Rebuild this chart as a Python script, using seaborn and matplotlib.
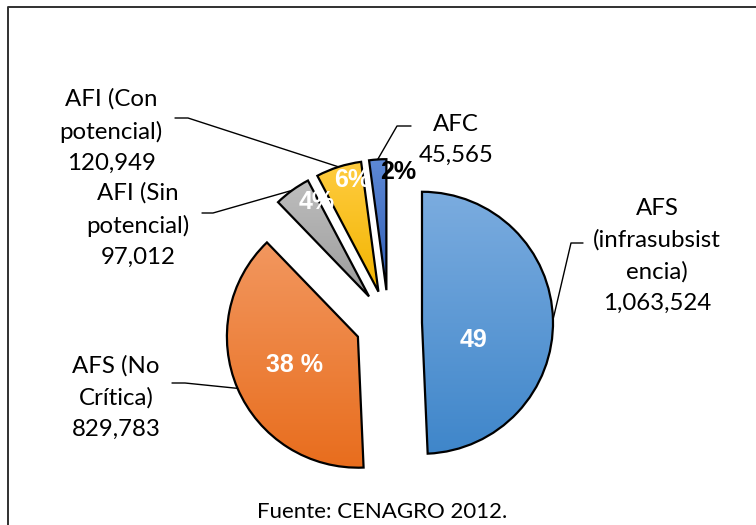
import numpy as np
import matplotlib
matplotlib.use("Agg")
import matplotlib.pyplot as plt
import seaborn as sns
from matplotlib.colors import LinearSegmentedColormap

# ---- data ----
categories = ["AFS (infrasubsistencia)", "AFS (No Crítica)", "AFI (Sin potencial)",
              "AFI (Con potencial)", "AFC"]
values = [1063524, 829783, 97012, 120949, 45565]
label_texts = ["AFS\n(infrasubsist\nencia)\n1,063,524",
               "AFS (No\nCrítica)\n829,783",
               "AFI (Sin\npotencial)\n97,012",
               "AFI (Con\npotencial)\n120,949",
               "AFC\n45,565"]
pct_labels = ["49", "38 %", "4%", "6%", "2%"]
source_text = "Fuente: CENAGRO 2012."

# gradient colours (top, bottom)
grad_colors = [("#7bacdf", "#3f86ca"),
               ("#f2975f", "#e86d1d"),
               ("#bebebe", "#9b9b9b"),
               ("#ffcc40", "#f2b400"),
               ("#5d89d6", "#2f5cb4")]
pct_colors = ["white", "white", "white", "white", "black"]

# ---- layout (pixels) ----
W, H = 756, 525
def Y(py):
    return H - py

pie_center = (388.6, Y(323.5))
pie_radius = 131
explode_px = 33.4

label_pos = [(657, 256), (116, 397), (138, 225), (111, 131), (456, 140)]
leader_start = [((583, 243), (571, 243)),
                ((172, 383), (185, 383)),
                ((202, 213), (213, 213)),
                ((175, 118), (188, 118)),
                ((411, 126), (397, 126))]
pct_pos = [(473, 340), (295, 365), (317, 202), (352, 180), (398, 172)]

sns.set_theme(style="white")
plt.rcParams['font.family'] = ['Lato', 'DejaVu Sans']

fig = plt.figure(figsize=(7.56, 5.25), dpi=100)
ax = fig.add_axes([0, 0, 1, 1])

wedges, _ = ax.pie(values, radius=pie_radius, center=pie_center,
                   explode=[explode_px] * len(values), startangle=90,
                   counterclock=False, frame=True,
                   colors=[c[0] for c in grad_colors],
                   wedgeprops=dict(edgecolor="black", linewidth=1.6))

grad = np.linspace(0, 1, 256).reshape(-1, 1)
for w, (top, bot) in zip(wedges, grad_colors):
    w.set_facecolor("none")
    w.set_zorder(2)
    ext = w.get_path().get_extents()
    cmap = LinearSegmentedColormap.from_list("g", [bot, top])
    im = ax.imshow(grad, extent=(ext.x0, ext.x1, ext.y0, ext.y1), cmap=cmap,
                   aspect="auto", origin="lower", zorder=1, interpolation="bilinear")
    im.set_clip_path(w)

# leader lines and labels
for w, txt, (lx, ly), (p0, p1) in zip(wedges, label_texts, label_pos, leader_start):
    tm = np.deg2rad((w.theta1 + w.theta2) / 2)
    cx, cy = w.center
    ex, ey = cx + w.r * np.cos(tm), cy + w.r * np.sin(tm)
    ax.plot([p0[0], p1[0], ex], [Y(p0[1]), Y(p1[1]), ey], color="black", lw=1.0, zorder=3)
    ax.text(lx, Y(ly), txt, ha="center", va="center", fontsize=17.3,
            linespacing=1.6, color="black", zorder=4)

for txt, (px, py), col in zip(pct_labels, pct_pos, pct_colors):
    ax.text(px, Y(py), txt, ha="center", va="center", fontsize=18,
            fontweight="bold", family=["Liberation Sans", "DejaVu Sans"],
            color=col, zorder=5)

ax.text(382, Y(512), source_text, ha="center", va="center", fontsize=16, color="black")

# chart frame
ax.plot([8, 8, W + 5], [-5, Y(7), Y(7)], color="#303030", lw=1.4, clip_on=False)

ax.set_xlim(0, W)
ax.set_ylim(0, H)
ax.set_aspect("equal")
ax.axis("off")

fig.savefig("out.png", dpi=100)
